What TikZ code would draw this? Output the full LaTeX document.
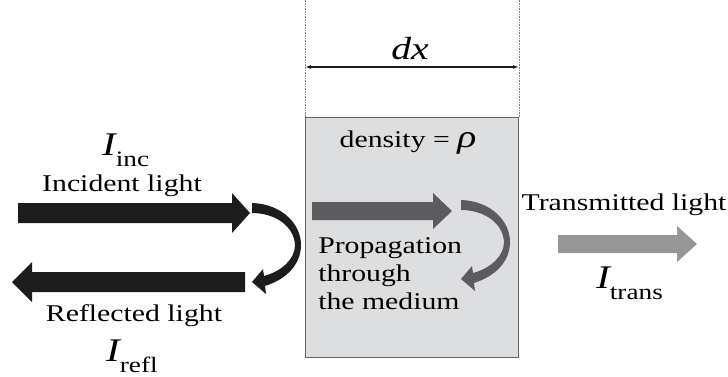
\documentclass[tikz,border=0pt]{standalone}
\usepackage{fontspec}
\setmainfont{Liberation Serif}
\usetikzlibrary{arrows.meta}
\definecolor{inkblack}{RGB}{28, 28, 28}
\definecolor{inkdark}{RGB}{92, 92, 94}
\definecolor{inklight}{RGB}{150, 150, 152}
\definecolor{mediumfill}{RGB}{221, 222, 224}
\definecolor{mediumline}{RGB}{100, 100, 100}
% block arrow: tail x, tip x, mid y, half shaft, head length (signed), colour
\newcommand{\beam}[6]{%
  \fill[#6] ({#1},{#3-#4}) -- ({#2-(#5)},{#3-#4}) -- ({#2-(#5)},{#3-2*#4}) -- ({#2},{#3})
    -- ({#2-(#5)},{#3+2*#4}) -- ({#2-(#5)},{#3+#4}) -- ({#1},{#3+#4}) -- cycle;}
\newcommand{\intensity}[1]{{\fontsize{33}{33}\selectfont\itshape I}\raisebox{-11pt}{\fontsize{22}{22}\selectfont #1}}

\begin{document}
\begin{tikzpicture}[
    x=1pt, y=-1pt,
    words/.style={inner sep=0pt, xscale=1.24, font=\fontsize{24}{28}\selectfont},
    guide/.style={densely dotted, draw=gray, line width=0.6pt},
    bounce/.pic={
      \fill (0,0) .. controls (30,1) and (49,21) .. (49,42)
        .. controls (49,61) and (35,76) .. (13,83) -- (14,91) -- (0,79) -- (11,66) -- (12,73)
        .. controls (30,68) and (43,56) .. (43,42)
        .. controls (42,23) and (23,10) .. (0,10) -- cycle;
    }
]
    \useasboundingbox (0,0) rectangle (728,376);

    % Medium
    \node (medium) [draw=mediumline, fill=mediumfill, line width=1pt, inner sep=0pt,
        minimum width=213pt, minimum height=240pt, anchor=north west] at (305,117) {};
    \coordinate (top) at (0,0);
    \coordinate (dxrow) at (0,67);
    \draw [guide] (medium.north west) -- (medium.north west |- top);
    \draw [guide] (medium.north east) -- (medium.north east |- top);
    \draw [{Latex[length=6pt,width=4pt]}-{Latex[length=6pt,width=4pt]}, line width=1.2pt, inkblack]
        (medium.north west |- dxrow) -- (medium.north east |- dxrow);
    \node (dx) [words, anchor=base, font=\fontsize{32}{32}\selectfont\itshape] at (410,59) {dx};
    \node (density) [words, anchor=base] at (408,147) {density = {\fontsize{32}{32}\selectfont\itshape ρ}};

    % Incident and reflected light
    \node (iinc) [words, anchor=base west] at (102,155) {\intensity{inc}};
    \node (inctext) [words, anchor=base] at (122,191) {Incident light};
    \beam{18}{250}{213}{10}{18}{inkblack}
    \pic [fill=inkblack] at (252,203) {bounce};
    \beam{245}{12}{282}{10}{-20}{inkblack}
    \node (refltext) [words, anchor=base] at (134,321) {Reflected light};
    \node (irefl) [words, anchor=base west] at (106,361) {\intensity{refl}};

    % Propagation
    \beam{312}{452}{211}{9}{19}{inkdark}
    \pic [fill=inkdark] at (461,200) {bounce};
    \node (prop) [words, anchor=north west, align=left] at (318,237) {Propagation\\through\\the medium};

    % Transmitted light
    \node (transtext) [words, anchor=base] at (624,210) {Transmitted light};
    \beam{558}{697}{244}{9}{20}{inklight}
    \node (itrans) [words, anchor=base west] at (596,288) {\intensity{trans}};

\end{tikzpicture}
\end{document}
